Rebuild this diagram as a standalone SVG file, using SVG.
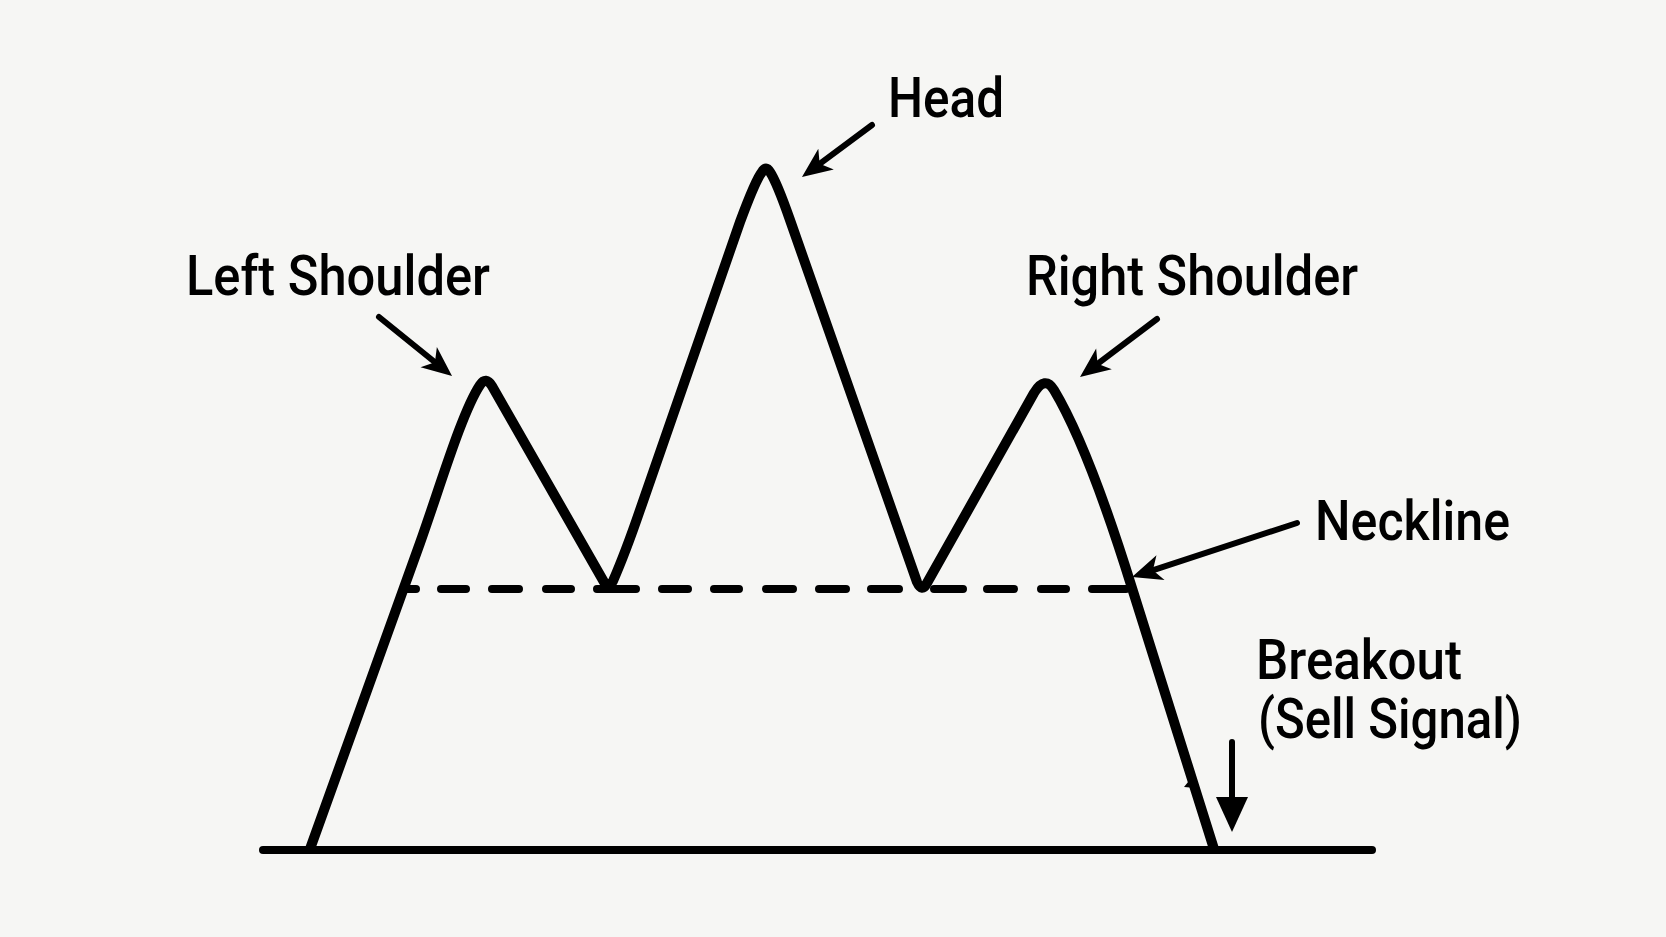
<svg xmlns="http://www.w3.org/2000/svg" width="1666" height="937" viewBox="0 0 1666 937">
  <style>
    .bg { fill: #f6f6f4; }
    .curve { fill: none; stroke: #000; stroke-width: 10; stroke-linejoin: round; stroke-linecap: round; }
    .base { fill: none; stroke: #000; stroke-width: 8; stroke-linecap: round; }
    .neck { fill: none; stroke: #000; stroke-width: 8; stroke-linecap: round; }
    .arrow { fill: none; stroke: #000; stroke-width: 6; stroke-linecap: round; }
    .lbl { font-family: Roboto, "Liberation Sans", Arial, sans-serif; font-weight: 500; fill: #000; font-size: 56px; }
  </style>
  <defs>
    <marker id="ah" markerUnits="userSpaceOnUse" orient="auto" refX="0" refY="0" markerWidth="60" markerHeight="60" overflow="visible">
      <path d="M12,0 L-18,-13 L-10,0 L-18,13 Z" fill="#000"/>
    </marker>
    <marker id="ahBig" markerUnits="userSpaceOnUse" orient="auto" refX="0" refY="0" markerWidth="60" markerHeight="60" overflow="visible">
      <path d="M12,0 L-23,-16 L-23,16 Z" fill="#000"/>
    </marker>
  </defs>
  <rect class="bg" x="0" y="0" width="1666" height="937"/>

  <g id="baseline">
    <path class="base" d="M263,850 H1372"/>
  </g>

  <g id="neckline">
    <path class="neck" d="M406,589 H416 M441,589 H466 M492,589 H519 M546,589 H571 M597,589 H636 M662,589 H688 M714,589 H739 M766,589 H793 M819,589 H846 M871,589 H899 M934,589 H963 M987,589 H1014 M1041,589 H1066 M1092,589 H1126"/>
  </g>

  <g id="price-line">
    <path class="curve" d="M310,849 L420,543 C440,487 462,412 480,385 Q486,376 492,386 L604,582 Q608,591 613,581 C620,565 628,545 640,510 L740,222 C750,195 757,178 762,172 Q766,165 770,172 C776,181 783,200 790,220 L917,582 Q922,593 927,583 L1034,393 Q1045,375 1054,390 C1075,425 1100,485 1132,588 L1214,849"/>
    <path d="M1184,787 L1193,776 L1196,788 Z" fill="#000"/>
  </g>

  <g id="connectors">
    <path class="arrow" marker-end="url(#ah)" d="M379,317 L442.7,368.5"/>
    <path class="arrow" marker-end="url(#ah)" d="M872,125 L811.6,169.8"/>
    <path class="arrow" marker-end="url(#ah)" d="M1157,319 L1089.6,369.8"/>
    <path class="arrow" marker-end="url(#ah)" d="M1297,523 L1143.4,573.3"/>
    <path class="arrow" marker-end="url(#ahBig)" d="M1232,742 L1232,820"/>
  </g>

  <g id="label-head">
    <text class="lbl" x="888" y="117" font-size="54" textLength="116" lengthAdjust="spacingAndGlyphs">Head</text>
  </g>
  <g id="label-left-shoulder">
    <text class="lbl" x="186" y="295" textLength="304" lengthAdjust="spacingAndGlyphs">Left Shoulder</text>
  </g>
  <g id="label-right-shoulder">
    <text class="lbl" x="1026" y="295" textLength="332" lengthAdjust="spacingAndGlyphs">Right Shoulder</text>
  </g>
  <g id="label-neckline">
    <text class="lbl" x="1315" y="540" textLength="195" lengthAdjust="spacingAndGlyphs">Neckline</text>
  </g>
  <g id="label-breakout">
    <text class="lbl" font-size="49"><tspan x="1256" y="679" textLength="206" lengthAdjust="spacingAndGlyphs">Breakout</tspan><tspan x="1258" y="738" textLength="264" lengthAdjust="spacingAndGlyphs">(Sell Signal)</tspan></text>
  </g>
</svg>
